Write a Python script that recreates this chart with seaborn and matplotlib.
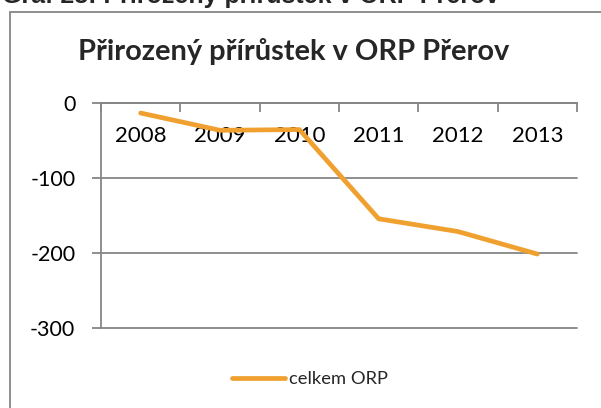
import matplotlib
matplotlib.use("Agg")
import matplotlib.pyplot as plt
import seaborn as sns
import pandas as pd
from matplotlib.patches import Rectangle
from matplotlib.ticker import FixedLocator

# Natural population change in the Přerov ORP
years = ["2008", "2009", "2010", "2011", "2012", "2013"]
values = [-13, -36, -35, -154, -171, -201]
series_name = "celkem ORP"
chart_title = "Přirozený přírůstek v ORP Přerov"
caption = "Graf 28: Přirozený přírůstek v ORP Přerov"
y_ticks = [0, -100, -200, -300]

sns.set_theme(style="white")
plt.rcParams["font.family"] = ["Lato", "DejaVu Sans"]

W, H = 601, 408
GRAY = "#868686"
ORANGE = "#F0A02E"

fig = plt.figure(figsize=(W / 100, H / 100), dpi=100)
ax = fig.add_axes([101 / W, 1 - 328.3 / H, (577 - 101) / W, (328.3 - 103.3) / H])

df = pd.DataFrame({"rok": years, "hodnota": values, "rada": series_name})
sns.lineplot(data=df, x="rok", y="hodnota", hue="rada", palette=[ORANGE],
             linewidth=3.4, sort=False, ax=ax)
for ln in ax.lines:
    ln.set_solid_capstyle("round")
    ln.set_solid_joinstyle("round")

ax.set_xlim(-0.5, len(years) - 0.5)
ax.set_ylim(min(y_ticks), max(y_ticks))
ax.set_xlabel("")
ax.set_ylabel("")

# spines: left axis plus the category axis running along zero
for side in ("top", "right"):
    ax.spines[side].set_visible(False)
ax.spines["bottom"].set_position(("data", 0))
for side in ("left", "bottom"):
    ax.spines[side].set_color(GRAY)
    ax.spines[side].set_linewidth(1.3)

ax.set_yticks(y_ticks)
ax.set_yticklabels([str(v) for v in y_ticks])
ax.yaxis.grid(True, color=GRAY, linewidth=1.3)
for gl in ax.get_ygridlines():
    gl.set_clip_on(False)
ax.set_axisbelow(True)

ax.set_xticks(range(len(years)))
ax.set_xticklabels(years)
ax.xaxis.set_minor_locator(FixedLocator([i - 0.5 for i in range(len(years) + 1)]))
ax.tick_params(axis="x", which="major", length=0, pad=16.5, labelsize=16, labelcolor="black")
ax.tick_params(axis="x", which="minor", bottom=True, length=6.5, width=1.3,
               color=GRAY, direction="out")
ax.tick_params(axis="y", which="major", left=True, length=6.5, width=1.3, color=GRAY,
               pad=12, labelsize=15.5, labelcolor="black")
for lbl in ax.get_xticklabels():
    lbl.set_verticalalignment("top")

leg = ax.legend(loc="center", bbox_to_anchor=(310 / W, 1 - 379 / H),
                bbox_transform=fig.transFigure, frameon=False, fontsize=13.2,
                handlelength=2.9, handletextpad=0.2)
for h in leg.get_lines():
    h.set_linewidth(3.4)
    h.set_solid_capstyle("round")

fig.text(294 / W, 1 - 60 / H, chart_title, ha="center", va="baseline",
         fontsize=20.9, fontweight="bold")
fig.text(2 / W, 1 - 3.5 / H, caption, ha="left", va="baseline",
         fontsize=18, fontweight="bold", family=["Liberation Sans", "DejaVu Sans"])

fig.add_artist(Rectangle((9.5 / W, -0.2), 2, 1.2 - 12 / H, transform=fig.transFigure,
                         fill=False, edgecolor=GRAY, linewidth=1.3))

fig.savefig("out.png", dpi=100, facecolor="white")
